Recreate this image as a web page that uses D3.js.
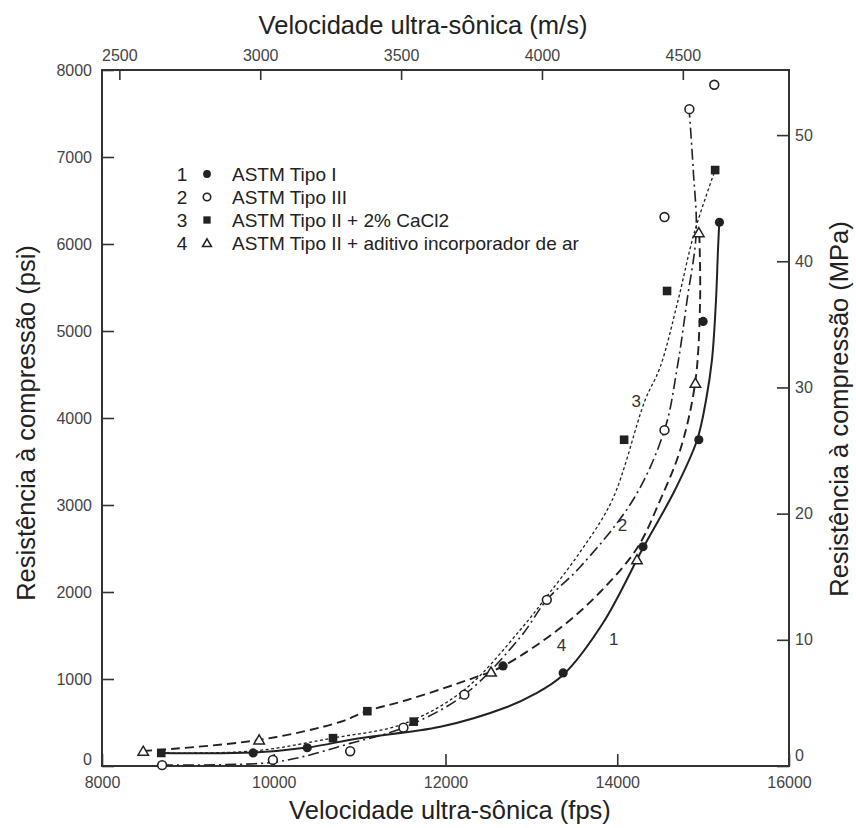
<!DOCTYPE html>
<html>
<head>
<meta charset="utf-8">
<script src="https://cdn.jsdelivr.net/npm/d3@7"></script>
<style>
  html, body { margin: 0; padding: 0; background: #fff; }
  svg { display: block; }
  .tick text { font-family: "Liberation Sans", Arial, sans-serif; font-size: 16px; fill: #444; }
  .tick line { stroke: #333; stroke-width: 1.6; }
  .title { font-family: "Liberation Sans", Arial, sans-serif; font-size: 25.5px; fill: #222; }
  .leg { font-family: "Liberation Sans", Arial, sans-serif; font-size: 19px; fill: #222; }
  .clabel { font-family: "Liberation Sans", Arial, sans-serif; font-size: 17px; fill: #333; }
</style>
</head>
<body>
<svg id="chart" width="856" height="828"></svg>
<script>
// Axis ticks
const fpsTicks = [8000, 10000, 12000, 14000, 16000];
const msTicks = [2500, 3000, 3500, 4000, 4500];
const psiTicks = [0, 1000, 2000, 3000, 4000, 5000, 6000, 7000, 8000];
const mpaTicks = [0, 10, 20, 30, 40, 50];

// Measured points: [velocity (fps), strength (psi)]
const tipoI = [[9760,150],[10390,210],[12670,1150],[13370,1070],[14300,2520],[14950,3750],[15000,5110],[15190,6250]];
const tipoIII = [[8700,10],[9990,70],[10890,170],[11510,440],[12220,820],[13180,1910],[14550,3860],[14550,6310],[14840,7550],[15130,7830]];
const tipoIICaCl2 = [[8690,150],[10690,320],[11090,630],[11630,510],[14080,3750],[14580,5460],[15140,6850]];
const tipoIIAr = [[8480,170],[9830,300],[12530,1080],[14230,2370],[14910,4400],[14950,6130]];

// Fitted curves drawn through each series
const curva1 = [[8690,150],[9760,155],[10390,212],[11000,320],[11940,450],[12716,678],[13042,828],[13368,1046],[13834,1644],[14300,2506],[14672,3172],[14930,3747],[15034,4207],[15103,4667],[15150,5356],[15173,5931],[15188,6250]];
const curva2 = [[8700,10],[9920,35],[10310,100],[10890,260],[11510,440],[12220,820],[12870,1480],[13180,1910],[13570,2290],[14185,3060],[14550,3860],[14700,4590],[14814,5360],[14919,6126],[14885,6850],[14837,7552]];
const curva3 = [[8690,150],[9760,172],[10690,322],[11506,483],[12217,874],[12869,1563],[13183,1954],[13568,2460],[13941,3057],[14325,4207],[14500,4586],[14709,5356],[14896,6126],[15140,6851]];
const curva4 = [[8480,172],[9829,299],[10772,506],[11087,632],[11553,759],[12322,1011],[12671,1149],[13335,1586],[13801,2000],[14232,2506],[14500,3057],[14733,3632],[14907,4402],[14965,5356],[14955,6126]];

// Curve numbers and their anchor points [fps, psi]
const curveLabels = [["1",[13960,1450]],["2",[14060,2770]],["3",[14220,4190]],["4",[13350,1390]]];

// Legend entries
const legendNums = ["1","2","3","4"];
const legendText = ["ASTM Tipo I","ASTM Tipo III","ASTM Tipo II + 2% CaCl2","ASTM Tipo II + aditivo incorporador de ar"];
const legendSym = ["dot","ring","square","triangle"];

const svg = d3.select("#chart");
const ink = "#222";

const x = d3.scaleLinear().domain([8000, 16000]).range([102, 789]);
const y = d3.scaleLinear().domain([0, 8000]).range([766, 70]);
const FT_TO_M = 0.3048, PSI_PER_MPA = 145.038;
const xTop = d3.scaleLinear().domain([8000 * FT_TO_M, 16000 * FT_TO_M]).range([102, 789]);
const yRight = d3.scaleLinear().domain([0, 8000 / PSI_PER_MPA]).range([766, 70]);

// Axes (ticks point inward)
const gB = svg.append("g").attr("transform", `translate(0,${y(0)})`)
  .call(d3.axisBottom(x).tickValues(fpsTicks).tickSize(-12).tickPadding(11).tickFormat(d3.format("d")));
const gT = svg.append("g").attr("transform", `translate(0,${y(8000)})`)
  .call(d3.axisTop(xTop).tickValues(msTicks).tickSize(-10).tickPadding(9).tickFormat(d3.format("d")));
const gL = svg.append("g").attr("transform", `translate(${x(8000)},0)`)
  .call(d3.axisLeft(y).tickValues(psiTicks).tickSize(-12).tickPadding(10).tickFormat(d3.format("d")));
const gR = svg.append("g").attr("transform", `translate(${x(16000)},0)`)
  .call(d3.axisRight(yRight).tickValues(mpaTicks).tickSize(-12).tickPadding(6).tickFormat(d3.format("d")));
[gB, gT, gL, gR].forEach(g => g.select(".domain").remove());
// the zero labels sit a little above the bottom corners
gL.selectAll(".tick text").filter(d => d === 0).attr("dy", "-0.1em");
gR.selectAll(".tick text").filter(d => d === 0).attr("dy", "-0.35em");

// Frame
svg.append("rect")
  .attr("x", x(8000)).attr("y", y(8000))
  .attr("width", x(16000) - x(8000)).attr("height", y(0) - y(8000))
  .attr("fill", "none").attr("stroke", "#333").attr("stroke-width", 2);

// Axis titles
svg.append("text").attr("class", "title").attr("x", 423).attr("y", 25)
  .attr("text-anchor", "middle").attr("dominant-baseline", "central")
  .text("Velocidade ultra-sônica (m/s)");
svg.append("text").attr("class", "title").attr("x", 450).attr("y", 810)
  .attr("text-anchor", "middle").attr("dominant-baseline", "central")
  .text("Velocidade ultra-sônica (fps)");
svg.append("text").attr("class", "title")
  .attr("transform", "translate(26,423) rotate(-90)")
  .attr("text-anchor", "middle").attr("dominant-baseline", "central")
  .text("Resistência à compressão (psi)");
svg.append("text").attr("class", "title")
  .attr("transform", "translate(839,409) rotate(-90)")
  .attr("text-anchor", "middle").attr("dominant-baseline", "central")
  .text("Resistência à compressão (MPa)");

// Curves
const line = d3.line().x(d => x(d[0])).y(d => y(d[1])).curve(d3.curveCatmullRom.alpha(0.5));
const curves = [
  { data: curva1, dash: null, w: 2 },
  { data: curva2, dash: "11,4,2,4", w: 1.6 },
  { data: curva3, dash: "3,2.5", w: 1.3 },
  { data: curva4, dash: "9,5", w: 1.9 }
];
svg.append("g").selectAll("path").data(curves).join("path")
  .attr("d", d => line(d.data))
  .attr("fill", "none").attr("stroke", ink)
  .attr("stroke-width", d => d.w)
  .attr("stroke-dasharray", d => d.dash);

// Marker drawing
function marker(g, kind, cx, cy, s = 1) {
  if (kind === "dot") {
    g.append("circle").attr("cx", cx).attr("cy", cy).attr("r", 4.6 * s).attr("fill", ink);
  } else if (kind === "ring") {
    g.append("circle").attr("cx", cx).attr("cy", cy).attr("r", 4.4 * s)
      .attr("fill", "#fff").attr("stroke", ink).attr("stroke-width", 1.6);
  } else if (kind === "square") {
    const h = 4.3 * s;
    g.append("rect").attr("x", cx - h).attr("y", cy - h).attr("width", 2 * h).attr("height", 2 * h).attr("fill", ink);
  } else {
    g.append("path").attr("d", d3.symbol(d3.symbolTriangle, 48 * s * s)())
      .attr("transform", `translate(${cx},${cy + 1})`)
      .attr("fill", "#fff").attr("stroke", ink).attr("stroke-width", 1.5);
  }
}

const series = [
  { data: tipoI, kind: "dot" },
  { data: tipoIII, kind: "ring" },
  { data: tipoIICaCl2, kind: "square" },
  { data: tipoIIAr, kind: "triangle" }
];
const gm = svg.append("g");
series.forEach(s => s.data.forEach(d => marker(gm, s.kind, x(d[0]), y(d[1]))));

// Curve numbers
svg.append("g").selectAll("text").data(curveLabels).join("text")
  .attr("class", "clabel")
  .attr("x", d => x(d[1][0])).attr("y", d => y(d[1][1]))
  .attr("text-anchor", "middle").attr("dominant-baseline", "central")
  .text(d => d[0]);

// Legend
const leg = svg.append("g");
legendText.forEach((t, i) => {
  const cy = 174 + i * 23;
  leg.append("text").attr("class", "leg").attr("x", 182).attr("y", cy)
    .attr("text-anchor", "middle").attr("dominant-baseline", "central").text(legendNums[i]);
  marker(leg, legendSym[i], 207, cy, 0.85);
  leg.append("text").attr("class", "leg").attr("x", 232).attr("y", cy)
    .attr("dominant-baseline", "central").text(t);
});
</script>
</body>
</html>
